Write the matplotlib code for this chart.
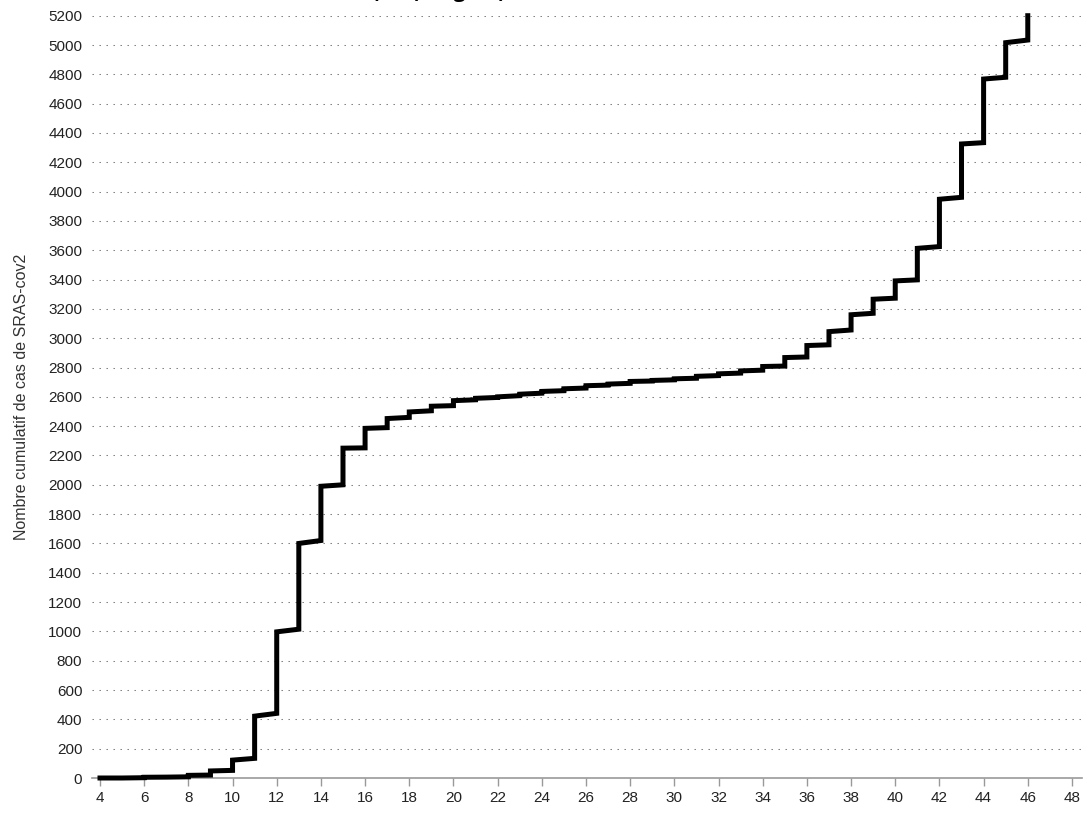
import matplotlib
matplotlib.use("Agg")
import matplotlib.pyplot as plt

plt.rcParams['font.family'] = ['Liberation Sans', 'DejaVu Sans']

# semaine (week number) and cumulative counts
weeks = list(range(4, 47))
# value reached just before the jump at each week
before = [0, 0, 2, 6, 8, 20, 52, 134, 441, 1015, 1620, 2000, 2252, 2390,
          2460, 2505, 2540, 2580, 2596, 2608, 2625, 2642, 2660, 2680, 2692,
          2708, 2716, 2727, 2745, 2762, 2782, 2810, 2872, 2955, 3056, 3170,
          3273, 3398, 3625, 3961, 4334, 4780, 5034]
# value just after the jump at each week
after = [0, 0, 5, 6, 18, 48, 122, 422, 997, 1600, 1990, 2250, 2385, 2452,
         2497, 2536, 2574, 2590, 2600, 2618, 2637, 2655, 2676, 2687, 2705,
         2712, 2723, 2740, 2757, 2777, 2807, 2868, 2950, 3045, 3160, 3266,
         3391, 3613, 3948, 4325, 4768, 5016, 5200]

xticks = list(range(4, 49, 2))
yticks = list(range(0, 5201, 200))
ylabel = "Nombre cumulatif de cas de SRAS-cov2"
title = "(S09)  région)"

xs, ys = [], []
for w, b, a in zip(weeks, before, after):
    xs += [w, w]
    ys += [b, a]

fig = plt.figure(figsize=(10.87, 8.14), dpi=100)
ax = fig.add_axes([92/1087, 36/814, 990/1087, 762.3/814])

for y in yticks[1:]:
    ax.axhline(y, color='#777777', lw=0.75, dashes=(1.33, 5.39), zorder=1)

ax.plot(xs, ys, color='black', lw=3.6, solid_joinstyle='miter',
        clip_on=False, zorder=3)

ax.set_xlim(4 - 8/22.09, 4 + 982/22.09)
ax.set_ylim(0, 5200)
ax.set_xticks(xticks)
ax.set_yticks(yticks)
ax.tick_params(axis='x', colors='#999999', length=6, width=1, labelsize=11,
               labelcolor='#222222', pad=3)
ax.tick_params(axis='y', length=0, labelsize=11, labelcolor='#222222', pad=7)

for s in ['top', 'right', 'left']:
    ax.spines[s].set_visible(False)
ax.spines['bottom'].set_color('#999999')
ax.spines['bottom'].set_linewidth(1.2)

ax.set_ylabel(ylabel, fontsize=11.5, color='#333333', labelpad=14)

# title lies mostly above the top edge, as in the source image
fig.text(372/1087, 1 - 2.5/814, title, fontsize=15, fontweight='bold',
         family='Open Sans', ha='left', va='bottom')

fig.savefig('out.png', dpi=100)
